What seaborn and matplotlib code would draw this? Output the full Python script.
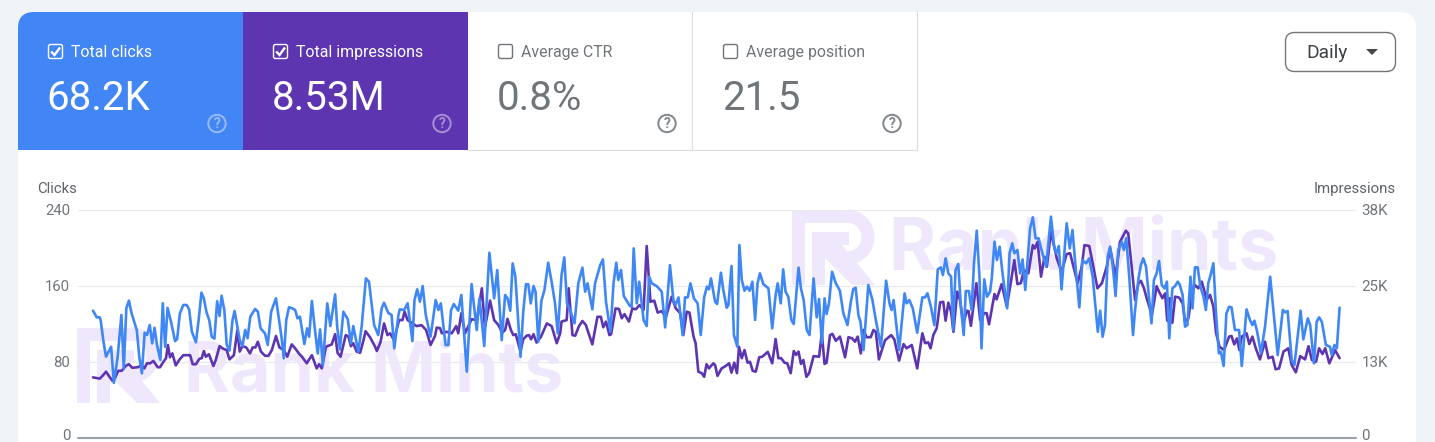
import matplotlib
matplotlib.use("Agg")
import matplotlib.pyplot as plt
from matplotlib.patches import FancyBboxPatch, Rectangle, Polygon, Circle, PathPatch, Arc
from matplotlib.path import Path
from matplotlib.transforms import ScaledTranslation
import pandas as pd
import seaborn as sns

sns.set_style("white")
plt.rcParams["font.family"] = ["Roboto", "DejaVu Sans"]

W, H = 1435, 442

clicks_day = [
    0,1.1,2,2.3,3,3.8,5.3,6.1,7.2,8.3,9,9.75,10.5,11.3,12.8,13.55,14.3,15.1,15.8,16.6,17.3,18,18.7,19.7,20.4,21.1,21.8,22.8,24,24.6,25.4,26.4,27.4,28.1,28.9,30.1,31,31.7,32.4,33.2,34,34.7,35.5,36.3,37,37.6,38.4,39.1,39.9,40.8,41.4,42.9,43.7,44.5,45.2,46,47.4,48.2,49,50.3,51.1,52.1,53.5,55.1,55.8,56.5,57.3,58.3,
    59.1,59.8,60.5,61.8,62.6,63.2,64,64.8,65.7,66.4,67.2,68.5,69.4,70.8,71.4,72.2,73.2,74.5,75.4,76.1,77.6,78.6,79.8,80.7,82.2,83.4,84.4,85.1,86.3,87.3,88.1,89.3,89.7,91,92,93.4,94,94.8,95.6,96.4,97.3,98.7,100.2,101,101.7,103.1,103.9,104.7,105.5,106.8,107.7,109.3,110.7,112.2,113,114.4,115.9,117.3,118.2,119.5,
    120.5,121.2,122,122.7,123.5,125,125.8,126.6,127.3,128,128.8,129.4,130.2,131.1,132,133.1,134.1,135.1,135.9,137,137.8,138.6,139.5,140.8,141.9,143.1,143.9,144.6,146,146.8,148.3,149.1,150,151.3,152.2,153,153.6,154.4,155.2,157,157.5,158.1,159,159.7,161,161.9,162.6,163.4,164.8,166.3,167.3,168.7,169.7,170.3,171.2,172.4,173.1,173.9,174.7,175.7,176.8,177.7,178.7,179.5,180.1,180.7,
    181.9,182.5,183.6,184.3,185.3,185.8,186.7,187.4,188.4,189,189.7,190.5,191.2,192,192.8,193.6,194.3,195,196,197.5,198.6,199.6,200.2,201.1,201.8,202.5,203.3,204.2,204.9,206.3,207,207.8,208.7,209.5,210.7,211.6,212.3,213.1,213.9,214.5,215.2,216.1,217.2,218.4,219.4,220.6,221.6,222.3,223,223.8,224.4,225.3,226.7,227.9,228.9,230.4,231.9,232.9,233.5,234.1,235.7,237.3,237.9,238.7,239.7,241,242.5,
    243.3,244,245,246,247,247.9,248.5,249.3,250.1,250.9,251.5,252.2,253,253.8,254.6,255.2,256.1,256.9,257.6,258.4,259.2,259.8,260.6,261.4,262.3,262.8,263.6,264.3,265.1,266,267.3,268,268.8,269.4,270.3,271.1,271.8,272.6,274,274.8,275.6,276.5,277.6,278.7,280.1,281.1,281.7,282.4,283.2,284.7,285.6,286.4,287.3,288.4,289.3,290.4,291.3,292.3,293.8,294.5,295.2,295.9,296.7,297.4,298.2,299,299.8,300.8,301.4,302.1,303,304.1,
    304.7,305.7,306.4,307.1,307.9,308.6,309.5,310.2,311,311.7,312.5,313.3,314,314.7,315.6,316.4,317.2,317.8,318.6,319.3,320,320.9,321.5,322.2,323,323.8,324.7,325.4,326.1,326.9,327.6,328.4,329.2,329.8,330.6,331.4,332.2,332.9,333.9,335.1,335.9,337.3,338.3,339,339.6,340.4,341.5,342.7,344.2,345.1,346.4,347.9,348.6,349.3,350.5,351.3,353.1,353.9,355.2,355.9,357,357.8,358.5,359.3,360.5,361.7,362.2,363,363.7,364.5,
]
clicks = [
    134,127,127,122.5,103,85.6,96,58,85,129.5,73,136.5,144.6,131,113.7,85,68,110.9,108.4,119,99.6,116,98,82,141.8,96,137,122.5,102,104,131,140,140,135.4,112,100.7,127.7,153,147,132.3,124,106.7,104.6,144,128.4,149.8,134.7,98,92,124,133.7,103,96.8,113.7,105,127.7,135.8,133,115.4,110,98,133,147,106.7,83.9,124,137.6,136.5,
    134.7,126,127.7,98.9,115.4,106.6,144.2,117.1,89,114.3,76.8,141.7,117.8,151.2,117.1,93.3,132.9,124.9,99.6,117.8,90.8,118.9,168,164.5,118.9,108.4,136.4,142.4,131.9,129.4,94.3,129.4,135.4,134.7,141.7,102,145.2,156.5,143.5,160,129.4,106.6,145.2,134.7,141.7,97.8,97.8,134.7,141,134,150.5,69.8,162,113.6,147,96.8,195,147,176.8,103,
    150.5,147,134,183.8,169.8,85.6,132.9,162,161.7,141.7,160,154,101.3,144.2,155.7,184.5,164.5,141.7,110,171.5,190.1,141.7,134.7,120.7,162.8,179.3,154,162.8,135.4,162.8,182,188,143.5,111.9,162.8,184.5,166.3,176.8,149.4,138.9,138.2,199.6,141.7,164.5,124.2,117.8,169.8,162.8,160,154,116.4,182,145.2,140,148,108.4,148,148,162.8,147,141.7,108.4,148,159.3,156.5,168,
    143.5,141,174,155.7,137.1,140,181,108.4,96.1,203.1,166.3,155,159.3,155,164.5,124.2,162.8,173.3,162,157.5,115.4,150.5,162.8,141.7,177.5,154,148.7,124.2,120,179.3,157.5,145.2,113.6,108.4,168,127,146.3,99.6,147,130.5,141.7,175,162.8,155,131.2,118.9,143.5,156.8,158.2,129.4,122.4,92.6,161,145.2,124.2,96.1,165.6,141.7,134.7,145.2,92.6,152.2,141.7,145.2,136.4,110.8,148,
    148,152.3,138.2,118.9,177.5,179.6,171.6,189.1,173.3,169.8,113.6,176.8,183.1,136.5,108.4,154.7,154.7,134.7,183.8,218.2,169.8,94.3,167,148.7,154,168,206.7,187.4,201.4,171.6,136.5,194.4,204.9,194.4,197.9,173.3,188,155.8,220.7,232.3,210.2,210.2,194.4,180.3,233,199.6,194.4,202.1,156.5,226,199.6,218.9,180.3,137.5,187.4,183.8,189.1,169.8,111.9,134,106.6,118.9,190.9,201.4,180.3,149.4,197.9,206.7,197.9,210.2,169.8,108.4,
    134.7,168,182.1,189.1,180.4,154,120.7,166.3,173.3,186.3,161,157.5,164.6,104.9,157.5,160,164.6,161,150.5,117.2,118.9,169.8,136.5,179.6,179.6,159.3,148.8,134.7,162.8,173.3,183.9,129.5,89.1,90.8,75.8,131.2,138.2,137.5,113.7,113.7,75.8,135.4,124.2,118.9,123.5,111.9,89.1,117.2,169.8,136.5,87.3,134.7,132.3,133.7,82.1,76.8,134,103.8,125.9,118.9,78.6,122.4,127,122.4,97.9,96.1,87.3,97.9,94.4,137.2,
]
impressions_day = [
    0,1.1,2,3,3.8,4.7,5.65,6.4,7.4,8.4,9.55,10.5,11.5,13.1,14.1,15,15.8,16.7,17.65,18.9,19.6,20.6,21.35,21.9,22.5,23.2,24.2,25.2,26.4,28.4,29.15,30.1,31.1,31.8,32.4,33,33.9,35.2,35.9,37,38,39.1,39.9,41.2,42.2,42.9,43.7,44.8,45.9,46.7,47.5,48.2,49.1,50.3,51.3,52.3,53.5,54.5,55.8,56.8,58.1,
    59.1,60.2,61.2,62.5,64,65.4,66.1,66.9,68.1,69.8,70.8,71.5,72.4,73.9,74.7,75.4,76.1,77.1,78.1,79.1,79.7,81,82.5,83,84.1,85.1,86.1,86.9,88,89.5,90.5,91.1,92,93.4,94.6,96.1,97.4,98.7,100,100.5,101.5,102,103.4,104.9,106.2,106.8,107.7,108.8,110.7,112.2,113.7,114.6,116.1,117.3,118.5,119.7,
    120.5,121.2,122.2,122.9,123.6,125,125.8,126.8,127.5,128.1,128.8,129.7,131,132.7,134.1,135.6,136.6,137,138.5,139.1,140.2,141,142.1,143.1,144.1,146,147.5,148.5,149.2,150,151,151.5,152.8,153.8,154.6,155.4,156.7,157.7,158.7,159.8,161,161.9,163,164.1,165.1,166.3,167.5,169.2,170.4,171.7,172.6,173.6,174.4,175.6,176.2,177,178,178.7,179.4,180.1,181.4,
    181.9,182.6,183.8,185,186,186.7,187.5,188.3,188.9,189.7,190.5,191.4,192.1,192.9,193.8,194.8,195.7,197.3,198.6,199.6,200.4,201.2,202.2,203,204,204.9,205.6,206.3,207,207.7,208.6,209.4,210.7,212.3,213.1,213.9,214.5,215.5,216.2,217.2,218.4,219.9,220.9,222,222.8,223.6,224.5,225.3,226.2,227.4,228.2,228.9,229.8,231.6,233.4,234.3,235.7,237,237.9,239.4,241,242.5,
    243.3,244.2,244.9,245.7,246.7,247.7,248.6,249.3,250.1,250.9,251.6,252.7,253.5,254.5,255.5,256,256.7,258.3,259.4,260.6,261.3,262,263.6,264.2,265.7,267.2,268.4,269.4,270.3,271.3,272.2,273.5,274.8,275.4,276.2,277.2,278.2,278.9,280.1,281.8,283.2,284.7,285.7,286.7,287.9,289.1,289.9,291.3,292.5,293.7,295,296.4,297.4,299,300.3,302,302.7,
    304.7,305.7,306.4,307.3,308.1,309.6,310.2,311,311.7,312.7,313.5,314.1,314.8,315.6,316.4,317.6,318.6,319.3,320.3,321.3,322.2,323.2,324.2,324.9,325.6,326.6,327.6,328.4,329.4,330.7,332.2,332.9,333.7,334.5,335.2,335.9,337.3,338.1,339,340,341.2,342.7,343.7,344.9,345.8,346.8,348.1,349.5,350.5,351.7,353,354.4,355.4,356.4,357.6,358.5,359.5,360.3,361.5,363.2,364.5,
]
impressions_k = [
    10.1,10,9.9,10.5,11.05,10.3,9.55,9.95,11.2,11.2,12,12.3,11.7,11.8,12.1,11.6,12.45,12.45,12.85,11.8,11.8,12.7,13.3,15.5,13.45,14.1,12.1,13,13.8,13.8,12.3,12.3,13.2,13.3,14.5,13.55,13.95,12,13,15.3,14.9,14.65,13.1,13.8,17.9,14.4,15.3,15.1,14.1,15.1,15.1,16.05,14.4,13.7,13.7,14.65,17,15.1,14.65,13.55,15.6,
    14.95,14.1,13.45,12.45,13.8,11.6,12.3,11.6,15.2,15.6,17.3,14.2,13.55,17.15,16.9,15.3,15.8,14.4,14.2,16.3,17.8,16.8,15.2,14.5,16.05,19.1,17.15,17.45,16.3,19.65,19.65,21.05,19.65,19.1,18.65,18.8,18,15.5,17,18.4,18.3,17.45,17.7,17.45,18.65,17.45,20.8,17.45,19.8,19.65,24.95,18.45,22.9,19.65,18.85,17.55,
    18,19.85,18,17.15,17.3,14.4,16.45,17.05,17.15,16.45,17.3,15.9,16.9,19.1,18.65,15.8,17.45,19.4,19.65,24.95,17.15,17.05,18.65,19.5,18.85,15.6,20.2,20.2,18.45,19.4,17.15,17.3,21.6,21.5,19.95,20.65,19.4,21.6,21.45,22.15,21.35,32,22.7,22.9,20.9,21.15,20.1,23.55,21.6,20.8,17.15,21.05,20.9,16.9,15.8,11.05,10.8,10.2,12.3,11.6,12.45,
    12.15,10.35,11.6,12,12.45,10.9,12.55,10.8,15.2,13.3,14.65,12.55,12.7,11.2,11.05,13.45,13.55,14.35,12.45,16.5,13.3,13.3,12.55,12.45,10.8,14.5,13.85,14.4,12.35,13,10.2,10.8,13.65,13.55,17.45,12.35,12.55,17.15,17.35,16.2,16.9,13.45,16.8,16.6,16.05,16.9,14.1,18,16.8,16.8,18,17.7,13.1,16.3,17.15,16.45,12.9,15.65,14.95,15.5,11.6,17.45,
    15.8,15.95,14.95,17.15,18.3,22.6,22.7,19.55,22.55,21.05,17.7,24.4,23,19.1,21.2,21.15,18.7,25.8,19.65,20.8,20.8,18.95,24,23.1,25.65,21.9,26.05,29.65,25.65,25.8,28,27.45,32.15,31.6,32.7,26.9,30.2,28.55,34.4,29.95,27.7,30.65,30.8,28.55,25.8,28.55,32.15,32,28.55,24.95,25.8,28.55,31.6,26.9,32.7,34.55,34.1,
    23,25.8,26.2,24.95,23.3,20.5,22.45,25.3,24.4,23.3,24.1,19.55,23.3,19.2,23.55,23.4,22.45,19.4,19.95,24.1,25.5,24.95,26.05,24.65,23,23.85,21.9,17.45,15.2,14.65,16.9,17,15.6,16.6,14.65,16.9,17.45,15.65,16.9,14.95,13.1,16.05,13.3,13.55,11.45,11.6,14.4,14.95,12.15,10.95,13.65,13.1,15.3,13,12.7,14.95,14,14.95,12.45,14.65,13.3,
]
clicks_ticks = [0, 80, 160, 240]
impressions_ticks = [0, 12.667, 25.333, 38]
impressions_tick_labels = ["0", "13K", "25K", "38K"]

tab_titles = ["Total clicks", "Total impressions", "Average CTR", "Average position"]
tab_values = ["68.2K", "8.53M", "0.8%", "21.5"]

BLUE = "#4285f4"
PURPLE = "#5e35b1"
PAGE = "#f0f4f9"
GREY_TEXT = "#70757a"
DARK_TEXT = "#5f6368"
WATERMARK = "#efe8fc"

fig = plt.figure(figsize=(W / 100, H / 100), dpi=100, facecolor=PAGE)

# Full-figure layer in pixel coordinates for the card, tabs and watermark
bg = fig.add_axes([0, 0, 1, 1], zorder=0)
bg.set_xlim(0, W)
bg.set_ylim(H, 0)
bg.axis("off")


def rounded_top(x0, x1, y0, y1, r, color):
    verts = [(x0, y1), (x0, y0 + r), (x0, y0), (x0 + r, y0), (x1 - r, y0), (x1, y0), (x1, y0 + r), (x1, y1), (x0, y1)]
    codes = [Path.MOVETO, Path.LINETO, Path.CURVE3, Path.CURVE3, Path.LINETO, Path.CURVE3, Path.CURVE3, Path.LINETO, Path.CLOSEPOLY]
    return PathPatch(Path(verts, codes), facecolor=color, edgecolor="none")


bg.add_patch(rounded_top(18, 1416, 12, H + 20, 16, "white"))

blue_verts = [(243, 150), (18, 150), (18, 28), (18, 12), (34, 12), (243, 12), (243, 150)]
blue_codes = [Path.MOVETO, Path.LINETO, Path.LINETO, Path.CURVE3, Path.CURVE3, Path.LINETO, Path.CLOSEPOLY]
bg.add_patch(PathPatch(Path(blue_verts, blue_codes), facecolor=BLUE, edgecolor="none"))
bg.add_patch(Rectangle((243, 12), 225, 138, facecolor=PURPLE, edgecolor="none"))

bg.plot([468, 917], [149.5, 149.5], color="#dadce0", lw=0.8)
bg.plot([692, 692], [12, 150], color="#dadce0", lw=0.8)
bg.plot([917, 917], [12, 150], color="#dadce0", lw=0.8)

tab_left = [48, 273, 498, 723]
for i, left in enumerate(tab_left):
    active = i < 2
    colour = "white" if active else GREY_TEXT
    bg.add_patch(FancyBboxPatch((left + 0.5, 44.5), 14, 14, boxstyle="round,pad=0,rounding_size=2",
                                facecolor="none", edgecolor=colour, lw=1.0))
    if active:
        bg.plot([left + 3.2, left + 6.5, left + 12], [51.5, 55, 47.5], color="white", lw=1.7,
                solid_capstyle="butt", solid_joinstyle="miter")
    bg.text(left + 23, 52.3, tab_titles[i], color=colour, fontsize=11.45, va="center", ha="left")
    bg.text(left - 1.3, 98.5, tab_values[i], color=colour, fontsize=29, va="center", ha="left")
    help_x = left + 169
    help_colour = "#ffffff" if active else "#80868b"
    help_alpha = 0.45 if active else 1.0
    bg.add_patch(Circle((help_x, 123.5), 8.7, facecolor="none", edgecolor=help_colour, lw=1.4, alpha=help_alpha))
    bg.text(help_x, 123.8, "?", color=help_colour, fontsize=10, fontweight="bold", ha="center", va="center", alpha=help_alpha)

# Period selector
bg.add_patch(FancyBboxPatch((1285.5, 32.5), 110, 39, boxstyle="round,pad=0,rounding_size=9",
                            facecolor="white", edgecolor="#747775", lw=1.0))
bg.text(1306, 52.8, "Daily", color="#3c4043", fontsize=13.8, va="center", ha="left")
bg.add_patch(Polygon([(1366, 49), (1378, 49), (1372, 55)], facecolor="#444746", edgecolor="none"))


def watermark(x, y, text_x, text_y, size):
    """Faint logo with the wordmark beside it; (x, y) is the logo's top-left corner."""
    c = WATERMARK
    bg.add_patch(Rectangle((x, y), 13, 75, facecolor=c, edgecolor="none"))
    bg.add_patch(Rectangle((x, y), 55, 13, facecolor=c, edgecolor="none"))
    bg.add_patch(Rectangle((x + 20, y + 22), 13, 53, facecolor=c, edgecolor="none"))
    bg.add_patch(Rectangle((x + 20, y + 22), 37, 13, facecolor=c, edgecolor="none"))
    bg.add_patch(Arc((x + 55, y + 27), 42, 42, theta1=-90, theta2=90, color=c, lw=9.4))
    bg.add_patch(Polygon([(x + 33, y + 35), (x + 50, y + 35), (x + 83, y + 75), (x + 60, y + 75), (x + 33, y + 48)],
                         facecolor=c, edgecolor="none"))
    bg.text(text_x, text_y, "Rank Mints", color=c, fontsize=size, fontweight="bold", family=["Inter", "DejaVu Sans"],
            va="center", ha="left")


watermark(77, 328, 184, 373, 50.3)
watermark(792, 210, 889, 251, 51.6)

bg.text(37.5, 188.7, "Clicks", color=DARK_TEXT, fontsize=10.7, va="center", ha="left")
bg.text(1396, 188.7, "Impressions", color=DARK_TEXT, fontsize=10.85, va="center", ha="right")

# Chart axes: day 0 and the last day sit just inside the baseline ends
px_per_day = 3.42
left_px, right_px, top_px, bottom_px = 78, 1356, 210, 438
ax = fig.add_axes([left_px / W, 1 - bottom_px / H, (right_px - left_px) / W, (bottom_px - top_px) / H], zorder=3)
ax2 = ax.twinx()
ax2.set_zorder(2)
ax.patch.set_visible(False)
ax2.patch.set_visible(False)

clicks_df = pd.DataFrame({"day": clicks_day, "clicks": clicks})
impressions_df = pd.DataFrame({"day": impressions_day, "impressions": impressions_k})

sns.lineplot(data=impressions_df, x="day", y="impressions", ax=ax2, color=PURPLE, lw=1.9,
             estimator=None, sort=False, solid_joinstyle="round")
sns.lineplot(data=clicks_df, x="day", y="clicks", ax=ax, color="#3f87f5", lw=1.9,
             estimator=None, sort=False, solid_joinstyle="round")

ax.set_xlim((left_px - 93) / px_per_day, (right_px - 93) / px_per_day)
ax.set_ylim(0, 240)
ax2.set_ylim(0, 38)

ax.set_xticks([])
ax.set_xlabel("")
ax.set_ylabel("")
ax2.set_ylabel("")
ax.set_yticks(clicks_ticks)
ax.set_yticklabels([str(v) for v in clicks_ticks])
ax2.set_yticks(impressions_ticks)
ax2.set_yticklabels(impressions_tick_labels)
ax.tick_params(axis="y", length=0, pad=5.7, labelsize=10.7, labelcolor=GREY_TEXT)
ax2.tick_params(axis="y", length=0, pad=4, labelsize=10.9, labelcolor=GREY_TEXT)

# Tick labels sit slightly above their gridlines; the zero labels go higher to stay inside the figure
for axis in (ax, ax2):
    for label, value in zip(axis.get_yticklabels(), axis.get_yticks()):
        rise = 3.5 if value == 0 else 0.6
        label.set_transform(label.get_transform() + ScaledTranslation(0, rise / 100, fig.dpi_scale_trans))

for axis in (ax, ax2):
    for side in ("top", "left", "right", "bottom"):
        axis.spines[side].set_visible(False)
ax2.grid(False)
ax.grid(False)
for v in clicks_ticks[1:]:
    ax2.axhline(v / 240 * 38, color="#e8eaed", lw=0.9, zorder=0)
ax.axhline(0, color="#9aa0a6", lw=1.5, clip_on=False, zorder=1)

fig.savefig("out.png", dpi=100, facecolor=PAGE)
